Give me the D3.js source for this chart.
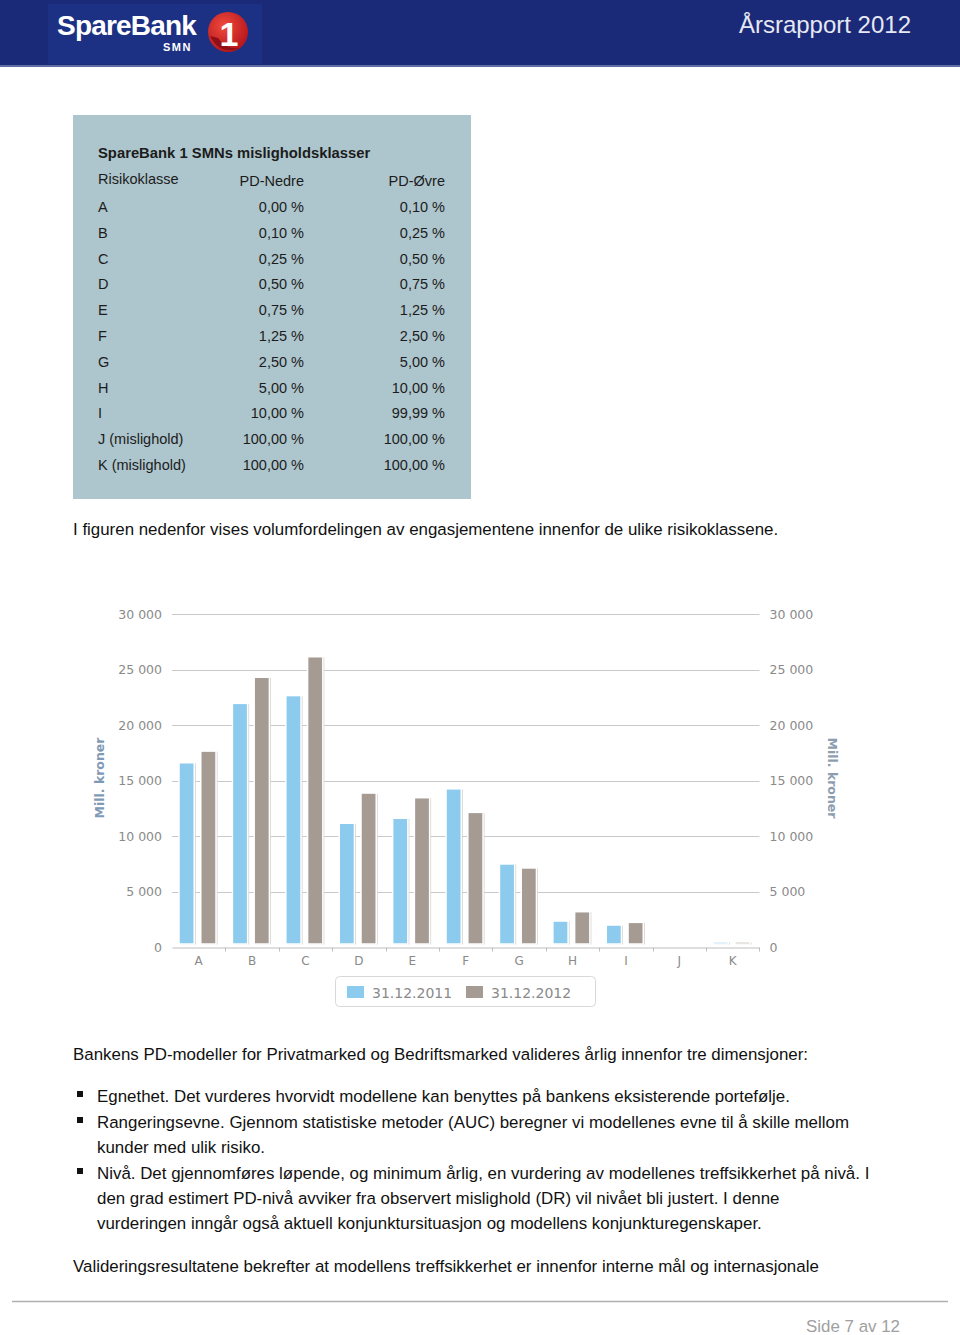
<!DOCTYPE html>
<html>
<head>
<meta charset="utf-8">
<script src="https://cdn.jsdelivr.net/npm/d3@7"></script>
<style>
  body { margin: 0; background: #fff; }
  svg { display: block; }
</style>
</head>
<body>
<div id="page"></div>
<script>
// risk class table
const tableTitle = 'SpareBank 1 SMNs misligholdsklasser';
const tableHead = ['Risikoklasse', 'PD-Nedre', 'PD-Øvre'];
const riskClasses = ['A', 'B', 'C', 'D', 'E', 'F', 'G', 'H', 'I', 'J (mislighold)', 'K (mislighold)'];
const pdLower = ['0,00 %', '0,10 %', '0,25 %', '0,50 %', '0,75 %', '1,25 %', '2,50 %', '5,00 %', '10,00 %', '100,00 %', '100,00 %'];
const pdUpper = ['0,10 %', '0,25 %', '0,50 %', '0,75 %', '1,25 %', '2,50 %', '5,00 %', '10,00 %', '99,99 %', '100,00 %', '100,00 %'];

// chart data (Mill. kroner)
const categories = ['A', 'B', 'C', 'D', 'E', 'F', 'G', 'H', 'I', 'J', 'K'];
const seriesNames = ['31.12.2011', '31.12.2012'];
const values2011 = [16600, 21950, 22650, 11150, 11600, 14250, 7480, 2340, 1980, 0, 280];
const values2012 = [17650, 24300, 26150, 13870, 13450, 12130, 7120, 3180, 2220, 0, 400];
const yTicks = [0, 5000, 10000, 15000, 20000, 25000, 30000];
const axisTitle = 'Mill. kroner';

const W = 960, H = 1335;
const sans = "'Liberation Sans', Arial, sans-serif";
const svg = d3.select('#page').append('svg').attr('width', W).attr('height', H);

// ---- header ----
svg.append('rect').attr('x', 0).attr('y', 0).attr('width', W).attr('height', 66).attr('fill', '#1b2a78');
svg.append('rect').attr('x', 0).attr('y', 65).attr('width', W).attr('height', 2).attr('fill', '#5d6ea3');
svg.append('rect').attr('x', 48).attr('y', 4).attr('width', 214).attr('height', 60).attr('fill', '#1d3184');
svg.append('text').attr('x', 57).attr('y', 35)
  .attr('font-family', sans).attr('font-weight', 'bold')
  .attr('font-size', 28).attr('letter-spacing', -0.8).attr('fill', '#fff').text('SpareBank');
svg.append('text').attr('x', 163).attr('y', 51)
  .attr('font-family', sans).attr('font-weight', 'bold')
  .attr('font-size', 11).attr('letter-spacing', 1.5).attr('fill', '#fff').text('SMN');

const defs = svg.append('defs');
const grad = defs.append('radialGradient').attr('id', 'redball').attr('cx', '40%').attr('cy', '35%').attr('r', '70%');
grad.append('stop').attr('offset', '0%').attr('stop-color', '#f04a3c');
grad.append('stop').attr('offset', '100%').attr('stop-color', '#b3141c');
svg.append('circle').attr('cx', 228).attr('cy', 32).attr('r', 20).attr('fill', 'url(#redball)');
svg.append('path').attr('d', 'M210,36 Q220,56 240,48 Q226,50 218,38 Z').attr('fill', '#8e0f16');
svg.append('text').attr('x', 229).attr('y', 46).attr('text-anchor', 'middle')
  .attr('font-family', sans).attr('font-weight', 'bold')
  .attr('font-size', 34).attr('fill', '#fff').text('1');

svg.append('text').attr('x', 911).attr('y', 33).attr('text-anchor', 'end')
  .attr('font-family', sans)
  .attr('font-size', 24).attr('fill', '#e6e8f2').text('Årsrapport 2012');

// ---- table image ----
const tab = svg.append('g').attr('font-family', sans).attr('fill', '#1c1c1c').attr('font-size', 14.5);
tab.append('rect').attr('x', 73).attr('y', 115).attr('width', 398).attr('height', 384).attr('fill', '#adc5cc');
tab.append('text').attr('x', 98).attr('y', 158).attr('font-size', 14.8).attr('font-weight', 'bold')
  .text(tableTitle);
tab.append('text').attr('x', 98).attr('y', 184).text(tableHead[0]);
tab.append('text').attr('x', 304).attr('y', 186).attr('text-anchor', 'end').text(tableHead[1]);
tab.append('text').attr('x', 445).attr('y', 186).attr('text-anchor', 'end').text(tableHead[2]);

const rowY = d3.scaleLinear().domain([0, riskClasses.length - 1]).range([212, 470]);
riskClasses.forEach((c, i) => {
  tab.append('text').attr('x', 98).attr('y', rowY(i)).text(c);
  tab.append('text').attr('x', 304).attr('y', rowY(i)).attr('text-anchor', 'end').text(pdLower[i]);
  tab.append('text').attr('x', 445).attr('y', rowY(i)).attr('text-anchor', 'end').text(pdUpper[i]);
});

// ---- body text ----
const body = svg.append('g').attr('font-family', sans)
  .attr('font-size', 16.9).attr('fill', '#111');
body.append('text').attr('x', 73).attr('y', 535)
  .text('I figuren nedenfor vises volumfordelingen av engasjementene innenfor de ulike risikoklassene.');

// ---- chart ----
const chartFont = "'DejaVu Sans', Verdana, sans-serif";
const x = d3.scaleBand().domain(categories).range([172, 759.5]).padding(0);
const x1 = d3.scaleBand().domain(seriesNames).range([7, 44]).paddingInner(0.3);
const y = d3.scaleLinear().domain([0, 30000]).range([947, 614]);
const colors = { '31.12.2011': '#8ccbee', '31.12.2012': '#a59b93' };
const fmt = v => d3.format(',')(v).replace(/,/g, ' ');

const chart = svg.append('g');

// gridlines
chart.append('g').selectAll('line').data(yTicks.filter(t => t > 0)).join('line')
  .attr('x1', 172).attr('x2', 759.5)
  .attr('y1', d => Math.round(y(d)) + 0.5).attr('y2', d => Math.round(y(d)) + 0.5)
  .attr('stroke', '#c9c9c9').attr('stroke-width', 1);

// left and right axes
const leftAxis = chart.append('g').attr('transform', 'translate(172,0)')
  .call(d3.axisLeft(y).tickValues(yTicks).tickFormat(fmt).tickSize(0).tickPadding(10));
const rightAxis = chart.append('g').attr('transform', 'translate(759.5,0)')
  .call(d3.axisRight(y).tickValues(yTicks).tickFormat(fmt).tickSize(0).tickPadding(10));
[leftAxis, rightAxis].forEach(a => {
  a.select('.domain').remove();
  a.selectAll('text').attr('font-family', chartFont).attr('font-size', 12.5).attr('fill', '#8a8a8a');
});

// bars
const data = categories.map((c, i) => ({ cat: c, vals: [
  { s: seriesNames[0], v: values2011[i] },
  { s: seriesNames[1], v: values2012[i] }
] }));
const groups = chart.append('g').selectAll('g').data(data).join('g')
  .attr('transform', d => `translate(${x(d.cat)},0)`);
const barRect = sel => sel
  .attr('x', d => x1(d.s))
  .attr('width', x1.bandwidth())
  .attr('y', d => Math.min(y(d.v), y(0) - 5))
  .attr('height', d => Math.max(y(0) - 3 - y(d.v), 2));
groups.selectAll('rect.shadow').data(d => d.vals.filter(e => e.v > 0)).join('rect')
  .attr('class', 'shadow').call(barRect)
  .attr('transform', 'translate(1.5,0.5)').attr('fill', '#d2d2d2');
groups.selectAll('rect.bar').data(d => d.vals.filter(e => e.v > 0)).join('rect')
  .attr('class', 'bar').call(barRect)
  .attr('fill', d => colors[d.s]).attr('stroke', '#fff').attr('stroke-width', 1.5);

// x axis
const xAxis = chart.append('g').attr('transform', 'translate(0,947.5)')
  .call(d3.axisBottom(x).tickSize(0).tickPadding(9));
xAxis.select('.domain').attr('stroke', '#bdbdbd');
xAxis.selectAll('text').attr('font-family', chartFont).attr('font-size', 12).attr('fill', '#8a8a8a');
xAxis.append('g').selectAll('line').data(categories.slice(1).concat(['end'])).join('line')
  .attr('x1', d => d === 'end' ? 759.5 : Math.round(x(d)) + 0.5)
  .attr('x2', d => d === 'end' ? 759.5 : Math.round(x(d)) + 0.5)
  .attr('y1', 0).attr('y2', 4).attr('stroke', '#bdbdbd');

// axis titles
chart.append('text').attr('transform', 'translate(104,778) rotate(-90)').attr('text-anchor', 'middle')
  .attr('font-family', chartFont).attr('font-weight', 'bold').attr('font-size', 12.5)
  .attr('fill', '#7f9ab6').text(axisTitle);
chart.append('text').attr('transform', 'translate(828,778) rotate(90)').attr('text-anchor', 'middle')
  .attr('font-family', chartFont).attr('font-weight', 'bold').attr('font-size', 12.5)
  .attr('fill', '#8d9db0').text(axisTitle);

// legend
const legend = chart.append('g');
legend.append('rect').attr('x', 335.5).attr('y', 976.5).attr('width', 260).attr('height', 30).attr('rx', 4)
  .attr('fill', '#fff').attr('stroke', '#d8d8d8');
const legX = d3.scalePoint().domain(seriesNames).range([347, 466]);
const li = legend.selectAll('g.item').data(seriesNames).join('g').attr('class', 'item')
  .attr('transform', d => `translate(${legX(d)},986)`);
li.append('rect').attr('width', 17).attr('height', 12).attr('fill', d => colors[d]);
li.append('text').attr('x', 25).attr('y', 11.5).attr('font-family', chartFont).attr('font-size', 14)
  .attr('fill', '#8a8a8a').text(d => d);

// ---- text below chart ----
body.append('text').attr('x', 73).attr('y', 1060)
  .text('Bankens PD-modeller for Privatmarked og Bedriftsmarked valideres årlig innenfor tre dimensjoner:');
const bulletLines = [
  { y: 1102, b: true, t: 'Egnethet. Det vurderes hvorvidt modellene kan benyttes på bankens eksisterende portefølje.' },
  { y: 1128, b: true, t: 'Rangeringsevne. Gjennom statistiske metoder (AUC) beregner vi modellenes evne til å skille mellom' },
  { y: 1153, b: false, t: 'kunder med ulik risiko.' },
  { y: 1179, b: true, t: 'Nivå. Det gjennomføres løpende, og minimum årlig, en vurdering av modellenes treffsikkerhet på nivå. I' },
  { y: 1204, b: false, t: 'den grad estimert PD-nivå avviker fra observert mislighold (DR) vil nivået bli justert. I denne' },
  { y: 1229, b: false, t: 'vurderingen inngår også aktuell konjunktursituasjon og modellens konjunkturegenskaper.' }
];
bulletLines.forEach(l => {
  body.append('text').attr('x', 97).attr('y', l.y).text(l.t);
  if (l.b) body.append('rect').attr('x', 77).attr('y', l.y - 11).attr('width', 6).attr('height', 6).attr('fill', '#111');
});
body.append('text').attr('x', 73).attr('y', 1272)
  .text('Valideringsresultatene bekrefter at modellens treffsikkerhet er innenfor interne mål og internasjonale');

// ---- footer ----
svg.append('line').attr('x1', 12).attr('x2', 948).attr('y1', 1301.5).attr('y2', 1301.5)
  .attr('stroke', '#b0b0b0').attr('stroke-width', 1.5);
svg.append('text').attr('x', 900).attr('y', 1332).attr('text-anchor', 'end')
  .attr('font-family', sans).attr('font-size', 16.9)
  .attr('fill', '#a0a0a0').text('Side 7 av 12');
</script>
</body>
</html>
